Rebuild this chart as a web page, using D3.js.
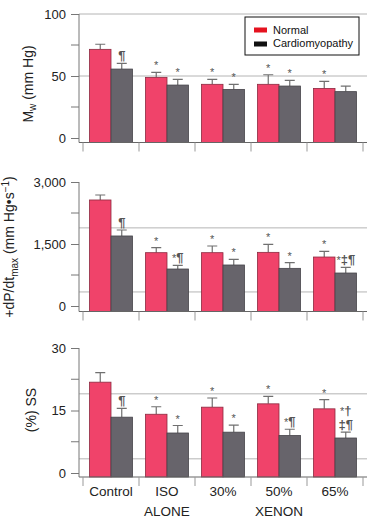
<!DOCTYPE html>
<html>
<head>
<meta charset="utf-8">
<script src="https://cdn.jsdelivr.net/npm/d3@7/dist/d3.min.js"></script>
<style>
  body { margin: 0; background: #fff; }
  svg { display: block; font-family: "Liberation Sans", Arial, Helvetica, sans-serif; }
</style>
</head>
<body>
<script>
const categories = ["Control", "ISO", "30%", "50%", "65%"];
const groupLabels = [{ text: "ALONE", at: "ISO" }, { text: "XENON", at: "50%" }];

// Mw (mm Hg)
const mwNormal = [71.5, 48.9, 43.3, 43.3, 40.0];
const mwNormalErr = [4.1, 4.1, 4.0, 7.7, 5.7];
const mwCardio = [55.6, 42.7, 39.2, 41.9, 37.4];
const mwCardioErr = [4.6, 4.6, 4.1, 4.6, 4.5];
const mwNormalMarks = ["", "*", "*", "*", "*"];
const mwCardioMarks = ["¶", "*", "*", "*", ""];
const mwTicks = [0, 50, 100];
const mwMinor = [25, 75];
const mwGrid = [50, 100];

// +dP/dtmax (mm Hg/s)
const dpNormal = [2565, 1290, 1290, 1298, 1185];
const dpNormalErr = [121, 121, 162, 194, 138];
const dpCardio = [1694, 895, 992, 911, 798];
const dpCardioErr = [145, 89, 137, 137, 137];
const dpNormalMarks = ["", "*", "*", "*", "*"];
const dpCardioMarks = ["¶", "*¶", "*", "*", "*‡¶"];
const dpTicks = [0, 1500, 3000];
const dpMinor = [750, 2250];
const dpGrid = [1890, 340];

// (%) SS
const ssNormal = [21.8, 14.1, 15.8, 16.6, 15.4];
const ssNormalErr = [2.3, 1.8, 2.2, 1.8, 2.2];
const ssCardio = [13.4, 9.6, 9.8, 9.0, 8.4];
const ssCardioErr = [2.1, 1.8, 1.7, 1.5, 1.4];
const ssNormalMarks = ["", "*", "*", "*", "*"];
const ssCardioMarks = ["¶", "*", "*", "*¶", "*†\n‡¶"];
const ssTicks = [0, 15, 30];
const ssMinor = [7.5, 22.5];
const ssGrid = [19, 3.4];

const W = 372, H = 522;
const axisX = 79, rightX = 367;
const red = "#f0436a", gray = "#67646b";

const svg = d3.select("body").append("svg").attr("width", W).attr("height", H);

const x = d3.scaleBand().domain(categories).range([83, 363]).padding(0);
const xInner = d3.scaleBand().domain(["Normal", "Cardiomyopathy"]).range([6.5, 49.5]).padding(0);

const panels = [
    { normal: mwNormal, normalErr: mwNormalErr, cardio: mwCardio, cardioErr: mwCardioErr,
      normalMarks: mwNormalMarks, cardioMarks: mwCardioMarks, ticks: mwTicks, minor: mwMinor, grid: mwGrid,
      max: 100, zeroY: 138, topY: 14, axisY: 142.5, labelX: 33, labelY: 84, label: "mw" },
    { normal: dpNormal, normalErr: dpNormalErr, cardio: dpCardio, cardioErr: dpCardioErr,
      normalMarks: dpNormalMarks, cardioMarks: dpCardioMarks, ticks: dpTicks, minor: dpMinor, grid: dpGrid,
      max: 3000, zeroY: 306, topY: 182, axisY: 311.5, labelX: 14, labelY: 247, label: "dp" },
    { normal: ssNormal, normalErr: ssNormalErr, cardio: ssCardio, cardioErr: ssCardioErr,
      normalMarks: ssNormalMarks, cardioMarks: ssCardioMarks, ticks: ssTicks, minor: ssMinor, grid: ssGrid,
      max: 30, zeroY: 473, topY: 348, axisY: 477, labelX: 36, labelY: 410, label: "ss" }
];

panels.forEach((p) => {
    const y = d3.scaleLinear().domain([0, p.max]).range([p.zeroY, p.topY]);
    const g = svg.append("g");

    // light horizontal lines
    g.selectAll(".grid")
        .data(p.grid)
        .enter()
        .append("line")
        .attr("x1", axisX).attr("x2", rightX)
        .attr("y1", (d) => y(d)).attr("y2", (d) => y(d))
        .attr("stroke", "#b4b4b4").attr("stroke-width", 1);

    // y axis
    const yAxis = d3.axisLeft(y).tickValues(p.ticks).tickSize(8).tickPadding(5)
        .tickFormat(d3.format(","));
    const ay = g.append("g").attr("transform", `translate(${axisX},0)`).call(yAxis);
    ay.select(".domain").remove();
    ay.selectAll(".tick line").attr("stroke", "#777");
    ay.selectAll(".tick text").attr("font-size", 13).attr("fill", "#222")
        .attr("font-family", "Liberation Sans, Arial, sans-serif");
    g.selectAll(".minor")
        .data(p.minor)
        .enter()
        .append("line")
        .attr("x1", axisX - 8).attr("x2", axisX)
        .attr("y1", (d) => y(d)).attr("y2", (d) => y(d))
        .attr("stroke", "#777");
    g.append("line")
        .attr("x1", axisX).attr("x2", axisX)
        .attr("y1", y(p.max)).attr("y2", p.axisY)
        .attr("stroke", "#777");

    // bars
    const rows = [];
    categories.forEach((c, i) => {
        rows.push({ c, s: "Normal", v: p.normal[i], e: p.normalErr[i], m: p.normalMarks[i] });
        rows.push({ c, s: "Cardiomyopathy", v: p.cardio[i], e: p.cardioErr[i], m: p.cardioMarks[i] });
    });
    const cx = (d) => x(d.c) + xInner(d.s) + xInner.bandwidth() / 2;

    // error bars
    g.selectAll(".err")
        .data(rows)
        .enter()
        .append("path")
        .attr("d", (d) => `M${cx(d)},${y(d.v)}V${y(d.v + d.e)}M${cx(d) - 5},${y(d.v + d.e)}H${cx(d) + 5}`)
        .attr("stroke", "#707070").attr("stroke-width", 1.2).attr("fill", "none");

    g.selectAll(".bar")
        .data(rows)
        .enter()
        .append("rect")
        .attr("x", (d) => x(d.c) + xInner(d.s))
        .attr("width", xInner.bandwidth())
        .attr("y", (d) => y(d.v))
        .attr("height", (d) => p.axisY - y(d.v))
        .attr("fill", (d) => (d.s === "Normal" ? red : gray))
        .attr("stroke", (d) => (d.s === "Normal" ? "#8c2a40" : "#46444a"))
        .attr("stroke-width", 0.8);

    // significance marks: asterisks small, other symbols larger
    rows.filter((d) => d.m).forEach((d) => {
        const lines = d.m.split("\n");
        lines.forEach((ln, k) => {
            const t = g.append("text")
                .attr("x", cx(d))
                .attr("y", y(d.v + d.e) - 3 - (lines.length - 1 - k) * 14)
                .attr("text-anchor", "middle")
                .attr("fill", "#555");
            Array.from(ln).forEach((ch) => {
                t.append("tspan")
                    .attr("font-size", ch === "*" ? 11 : 13)
                    .attr("font-weight", ch === "*" ? "normal" : "bold")
                    .text(ch);
            });
        });
    });

    // x axis
    g.append("line")
        .attr("x1", axisX).attr("x2", rightX)
        .attr("y1", p.axisY).attr("y2", p.axisY)
        .attr("stroke", "#666").attr("stroke-width", 1.2);
    const bounds = categories.map((c) => x(c)).concat([x.range()[1]]);
    g.selectAll(".xtick")
        .data(bounds)
        .enter()
        .append("line")
        .attr("x1", (d) => d).attr("x2", (d) => d)
        .attr("y1", p.axisY).attr("y2", p.axisY + 9)
        .attr("stroke", "#999");

    // y label
    const lab = g.append("text")
        .attr("transform", `translate(${p.labelX},${p.labelY}) rotate(-90)`)
        .attr("text-anchor", "middle")
        .attr("font-size", 14)
        .attr("fill", "#222");
    if (p.label === "mw") {
        lab.append("tspan").text("M");
        lab.append("tspan").attr("font-size", 10).attr("dy", 3).text("w");
        lab.append("tspan").attr("dy", -3).text(" (mm Hg)");
    } else if (p.label === "dp") {
        lab.append("tspan").text("+dP/dt");
        lab.append("tspan").attr("font-size", 10).attr("dy", 4).text("max");
        lab.append("tspan").attr("dy", -4).text(" (mm Hg•s");
        lab.append("tspan").attr("font-size", 10).attr("dy", -5).text("−1");
        lab.append("tspan").attr("dy", 5).text(")");
    } else {
        lab.text("(%) SS");
    }
});

// category labels
svg.selectAll(".xlab")
    .data(categories)
    .enter()
    .append("text")
    .attr("x", (d) => x(d) + x.bandwidth() / 2)
    .attr("y", 496)
    .attr("text-anchor", "middle")
    .attr("font-size", 13.5)
    .attr("fill", "#222")
    .text((d) => d);

svg.selectAll(".glab")
    .data(groupLabels)
    .enter()
    .append("text")
    .attr("x", (d) => x(d.at) + x.bandwidth() / 2)
    .attr("y", 516)
    .attr("text-anchor", "middle")
    .attr("font-size", 13.5)
    .attr("fill", "#222")
    .text((d) => d.text);

// legend
const legend = svg.append("g").attr("transform", "translate(245,17)");
legend.append("rect")
    .attr("width", 114).attr("height", 38)
    .attr("fill", "#fff").attr("stroke", "#111").attr("stroke-width", 1);
const legendItems = [{ name: "Normal", color: "#e5121f" }, { name: "Cardiomyopathy", color: "#111" }];
legendItems.forEach((d, i) => {
    legend.append("rect")
        .attr("x", 9).attr("y", 10.5 + i * 14)
        .attr("width", 13).attr("height", 5)
        .attr("fill", d.color);
    legend.append("text")
        .attr("x", 28).attr("y", 16.5 + i * 13.5)
        .attr("font-size", 11)
        .attr("fill", "#111")
        .text(d.name);
});
</script>
</body>
</html>
